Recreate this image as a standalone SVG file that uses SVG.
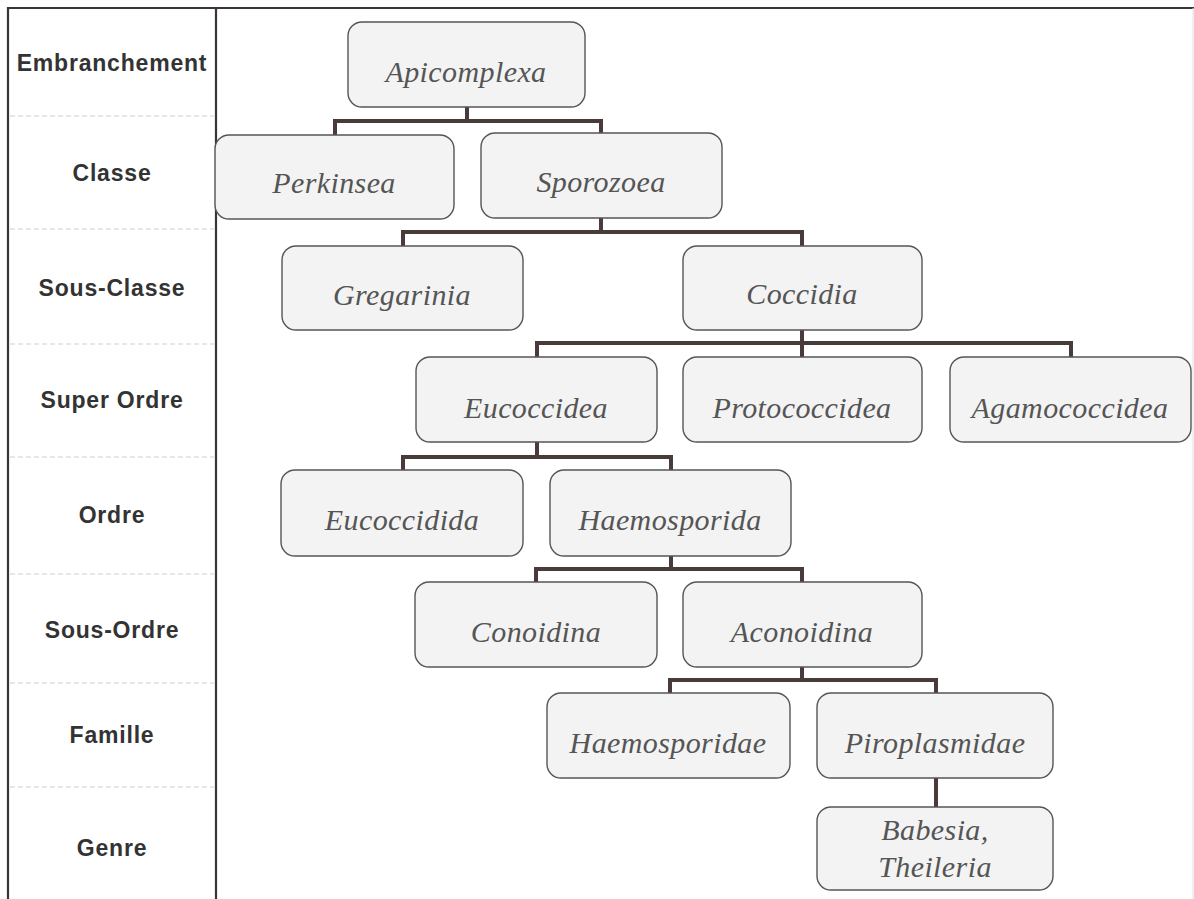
<svg xmlns="http://www.w3.org/2000/svg" width="1194" height="899" viewBox="0 0 1194 899">
<style>
.frame{stroke:#3a3434;stroke-width:2.2;fill:none}
.sep{stroke:#cfcfcf;stroke-width:1.2;stroke-dasharray:5 3;fill:none}
.lbl{font-family:"Liberation Sans",Arial,sans-serif;font-weight:bold;font-size:23px;letter-spacing:0.8px;fill:#333;text-anchor:middle}
.box{fill:#f3f3f3;stroke:#555;stroke-width:1.4}
.txt{font-family:"Liberation Serif","Times New Roman",serif;font-style:italic;font-size:30px;letter-spacing:0.4px;fill:#555;text-anchor:middle}
.con{stroke:#4a3b3b;stroke-width:4;fill:none;stroke-linejoin:miter;stroke-linecap:square}
</style>
<rect x="0" y="0" width="1194" height="899" fill="#ffffff"/>
<g id="frame">
<line class="frame" x1="7" y1="8" x2="1194" y2="8"/>
<line class="frame" x1="8" y1="7" x2="8" y2="899"/>
<line class="frame" x1="216" y1="8" x2="216" y2="899"/>
<line x1="1193" y1="8" x2="1193" y2="899" stroke="#e0e0e0" stroke-width="1"/>
<line class="sep" x1="10" y1="116" x2="214" y2="116"/>
<line class="sep" x1="10" y1="229" x2="214" y2="229"/>
<line class="sep" x1="10" y1="344" x2="214" y2="344"/>
<line class="sep" x1="10" y1="457" x2="214" y2="457"/>
<line class="sep" x1="10" y1="574" x2="214" y2="574"/>
<line class="sep" x1="10" y1="683" x2="214" y2="683"/>
<line class="sep" x1="10" y1="787" x2="214" y2="787"/>
</g>
<g id="ranks">
<text class="lbl" x="112" y="71">Embranchement</text>
<text class="lbl" x="112" y="181">Classe</text>
<text class="lbl" x="112" y="296">Sous-Classe</text>
<text class="lbl" x="112" y="408">Super Ordre</text>
<text class="lbl" x="112" y="523">Ordre</text>
<text class="lbl" x="112" y="638">Sous-Ordre</text>
<text class="lbl" x="112" y="743">Famille</text>
<text class="lbl" x="112" y="856">Genre</text>
</g>
<g id="connectors">
<path class="con" d="M467,107 V121 M335,134 V121 H601 V133"/>
<path class="con" d="M601,218 V232 M403,246 V232 H802 V246"/>
<path class="con" d="M802,330 V343 M537,357 V343 H1071 V357 M802,343 V357"/>
<path class="con" d="M537,442 V457 M403,470 V457 H671 V470"/>
<path class="con" d="M671,556 V569 M536,582 V569 H802 V582"/>
<path class="con" d="M802,667 V680 M670,693 V680 H936 V693"/>
<path class="con" d="M936,778 V807"/>
</g>
<g id="n-apicomplexa"><rect class="box" x="348" y="22" width="237" height="85" rx="14"/><text class="txt" x="466" y="82">Apicomplexa</text></g>
<g id="n-perkinsea"><rect class="box" x="215" y="135" width="239" height="84" rx="14"/><text class="txt" x="334" y="193">Perkinsea</text></g>
<g id="n-sporozoea"><rect class="box" x="481" y="133" width="241" height="85" rx="14"/><text class="txt" x="601" y="192">Sporozoea</text></g>
<g id="n-gregarinia"><rect class="box" x="282" y="246" width="241" height="84" rx="14"/><text class="txt" x="402" y="305">Gregarinia</text></g>
<g id="n-coccidia"><rect class="box" x="683" y="246" width="239" height="84" rx="14"/><text class="txt" x="802" y="304">Coccidia</text></g>
<g id="n-eucoccidea"><rect class="box" x="416" y="357" width="241" height="85" rx="14"/><text class="txt" x="536" y="418">Eucoccidea</text></g>
<g id="n-protococcidea"><rect class="box" x="683" y="357" width="239" height="85" rx="14"/><text class="txt" x="802" y="418">Protococcidea</text></g>
<g id="n-agamococcidea"><rect class="box" x="950" y="357" width="241" height="85" rx="14"/><text class="txt" x="1070" y="418">Agamococcidea</text></g>
<g id="n-eucoccidida"><rect class="box" x="281" y="470" width="242" height="86" rx="14"/><text class="txt" x="402" y="530">Eucoccidida</text></g>
<g id="n-haemosporida"><rect class="box" x="550" y="470" width="241" height="86" rx="14"/><text class="txt" x="670" y="530">Haemosporida</text></g>
<g id="n-conoidina"><rect class="box" x="415" y="582" width="242" height="85" rx="14"/><text class="txt" x="536" y="642">Conoidina</text></g>
<g id="n-aconoidina"><rect class="box" x="683" y="582" width="239" height="85" rx="14"/><text class="txt" x="802" y="642">Aconoidina</text></g>
<g id="n-haemosporidae"><rect class="box" x="547" y="693" width="243" height="85" rx="14"/><text class="txt" x="668" y="753">Haemosporidae</text></g>
<g id="n-piroplasmidae"><rect class="box" x="817" y="693" width="236" height="85" rx="14"/><text class="txt" x="935" y="753">Piroplasmidae</text></g>
<g id="n-babesia"><rect class="box" x="817" y="807" width="236" height="83" rx="14"/><text class="txt" x="935" y="840">Babesia,</text><text class="txt" x="935" y="877">Theileria</text></g>
</svg>
